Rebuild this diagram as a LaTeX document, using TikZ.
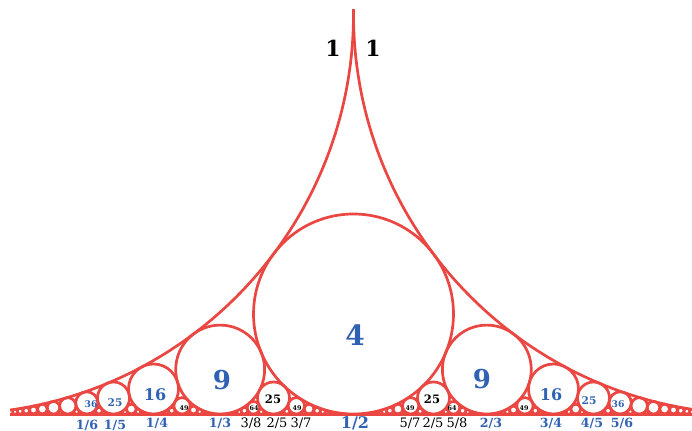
\documentclass[tikz,border=0pt]{standalone}
\usepackage{fontspec}
\setmainfont{DejaVu Serif}
\definecolor{fordred}{RGB}{234,70,66}
\definecolor{fordblue}{RGB}{48,98,180}
\newcommand\fsz[1]{\fontsize{#1}{#1}\selectfont}
\begin{document}
\begin{tikzpicture}[x=0.5pt,y=-0.5pt,
  blab/.style={text=fordblue, font=\bfseries, inner sep=0pt},
  klab/.style={text=black, font=\bfseries, inner sep=0pt},
  kreg/.style={text=black, inner sep=0pt},
  baseline line/.style={draw=fordred, line width=1.3pt}]
\useasboundingbox (0,0) rectangle (692,431);
\fill[white] (0,0) rectangle (692,431);
\begin{scope}
\clip (10,10) rectangle (692,414.5);
\foreach \q in {1,...,26} {
  \foreach \p in {0,...,\q} {
    \pgfmathtruncatemacro\g{gcd(\p,\q)}
    \ifnum\g=1
      \pgfmathsetmacro\r{400/(\q*\q)}
      \pgfmathsetmacro\cx{-46.5+(800/\q)*\p}
      \pgfmathsetmacro\lw{min(2.7,0.6*\r+0.6)*0.5}
      \draw[fordred, line width=\lw pt] (\cx,414-\r) circle [radius=\r];
    \fi
  }
}
\end{scope}
\coordinate (bl) at (10,415);
\coordinate (br) at (692,415);
\draw[baseline line] (bl) -- (br);
% circle labels
\node[blab, font=\bfseries\fsz{14}] (c4) at (355,335) {4};
\node[blab, font=\bfseries\fsz{13}] (c9a) at (222,380) {9};
\node[blab, font=\bfseries\fsz{13}] (c9b) at (482,379) {9};
\node[blab, font=\bfseries\fsz{8}] (c16a) at (155,395) {16};
\node[blab, font=\bfseries\fsz{8}] (c16b) at (551,395) {16};
\node[blab, font=\bfseries\fsz{5.3}] (c25a) at (115,403) {25};
\node[blab, font=\bfseries\fsz{5.3}] (c25b) at (589,401) {25};
\node[blab, font=\bfseries\fsz{4.6}] (c36a) at (91,404) {36};
\node[blab, font=\bfseries\fsz{4.6}] (c36b) at (618,404) {36};
\node[klab, font=\bfseries\fsz{5.8}] (c25c) at (273,399) {25};
\node[klab, font=\bfseries\fsz{5.8}] (c25d) at (432,399) {25};
\node[klab, font=\bfseries\fsz{3.2}] (c49a) at (184,408) {49};
\node[klab, font=\bfseries\fsz{3.2}] (c49b) at (297,408) {49};
\node[klab, font=\bfseries\fsz{3.2}] (c49c) at (410,408) {49};
\node[klab, font=\bfseries\fsz{3.2}] (c49d) at (524,408) {49};
\node[klab, font=\bfseries\fsz{3.2}] (c64a) at (254,408) {64};
\node[klab, font=\bfseries\fsz{3.2}] (c64b) at (452,408) {64};
\node[klab, font=\bfseries\fsz{11}] (t1a) at (333,48) {1};
\node[klab, font=\bfseries\fsz{11}] (t1b) at (373,48) {1};
% bottom fraction labels
\node[blab, font=\bfseries\fsz{6.3}] (f16) at (87,425) {1/6};
\node[blab, font=\bfseries\fsz{6.3}] (f15) at (115,425) {1/5};
\node[blab, font=\bfseries\fsz{6.3}] (f14) at (157,423) {1/4};
\node[blab, font=\bfseries\fsz{6.3}] (f13) at (220,423) {1/3};
\node[kreg, font=\fsz{6.5}] (f38) at (251,423) {3/8};
\node[kreg, font=\fsz{6.5}] (f25) at (277,423) {2/5};
\node[kreg, font=\fsz{6.5}] (f37) at (301,423) {3/7};
\node[blab, font=\bfseries\fsz{8}] (f12) at (355,423.5) {1/2};
\node[kreg, font=\fsz{6.5}] (f57) at (410,423) {5/7};
\node[kreg, font=\fsz{6.5}] (f25b) at (433,423) {2/5};
\node[kreg, font=\fsz{6.5}] (f58) at (457,423) {5/8};
\node[blab, font=\bfseries\fsz{6.3}] (f23) at (491,423) {2/3};
\node[blab, font=\bfseries\fsz{6.3}] (f34) at (551,423) {3/4};
\node[blab, font=\bfseries\fsz{6.3}] (f45) at (592,423) {4/5};
\node[blab, font=\bfseries\fsz{6.3}] (f56) at (622,423) {5/6};
\end{tikzpicture}
\end{document}
